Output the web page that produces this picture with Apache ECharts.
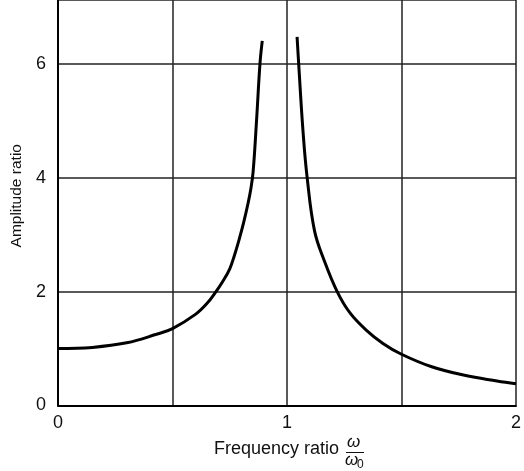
<!DOCTYPE html>
<html>
<head>
<meta charset="utf-8">
<script src="https://cdn.jsdelivr.net/npm/echarts@6/dist/echarts.min.js"></script>
<style>
html,body{margin:0;padding:0;background:#fff;}
#c{width:524px;height:471px;}
</style>
</head>
<body>
<div id="c"></div>
<script>
// Frequency ratio (omega/omega0) and amplitude ratio
var leftRatio = [0, 0.15, 0.3, 0.43, 0.5, 0.6, 0.65, 0.69, 0.72, 0.75, 0.77, 0.79, 0.81, 0.83, 0.842, 0.852, 0.867, 0.882, 0.892];
var leftAmp   = [1.0, 1.02, 1.10, 1.25, 1.35, 1.6, 1.79, 2.0, 2.18, 2.4, 2.63, 2.9, 3.2, 3.55, 3.8, 4.1, 5.0, 6.0, 6.4];
var rightRatio = [1.044, 1.051, 1.07, 1.088, 1.12, 1.162, 1.219, 1.276, 1.347, 1.419, 1.5, 1.632, 1.775, 1.917, 2.0];
var rightAmp   = [6.47, 6.0, 4.81, 4.0, 3.07, 2.55, 2.0, 1.62, 1.32, 1.09, 0.90, 0.68, 0.53, 0.43, 0.38];
var xTicks = [0, 1, 2];
var yTicks = [0, 2, 4, 6];

function pairs(xs, ys){ return xs.map(function(x,i){ return [x, ys[i]]; }); }

var chart = echarts.init(document.getElementById('c'), null, {renderer:'canvas'});
var font = 'Liberation Sans, Arial, sans-serif';
chart.setOption({
  animation:false,
  backgroundColor:'#fff',
  grid:{left:58, right:-1, top:-2, bottom:65.5},
  xAxis:{
    type:'value', min:0, max:2, interval:0.5,
    axisLine:{show:true, onZero:false, lineStyle:{color:'#000', width:2}},
    axisTick:{show:false},
    splitLine:{show:true, lineStyle:{color:'#222', width:1.5}},
    axisLabel:{
      color:'#111', fontSize:18, fontFamily:font, margin:9,
      formatter:function(v){ return xTicks.indexOf(v) >= 0 ? String(v) : ''; }
    }
  },
  yAxis:{
    type:'value', min:0, max:7.118, interval:2,
    name:'Amplitude ratio', nameLocation:'middle', nameGap:30,
    nameTextStyle:{color:'#111', fontSize:15.5, fontFamily:font, padding:[0,0,0,14]},
    axisLine:{show:true, onZero:false, lineStyle:{color:'#000', width:2}},
    axisTick:{show:false},
    splitLine:{show:true, lineStyle:{color:'#222', width:1.5}},
    axisLabel:{
      color:'#111', fontSize:18, fontFamily:font, margin:12,
      formatter:function(v){ return yTicks.indexOf(v) >= 0 ? String(v) : ''; }
    }
  },
  graphic:[
    {type:'text', left:214, top:440, style:{text:'Frequency ratio', font:'18px ' + font, fill:'#111'}},
    {type:'text', left:347, top:434, style:{text:'ω', font:'italic 17px ' + font, fill:'#111'}},
    {type:'line', shape:{x1:346, y1:452.5, x2:364, y2:452.5}, style:{stroke:'#111', lineWidth:1}},
    {type:'text', left:345, top:452, style:{text:'ω', font:'italic 17px ' + font, fill:'#111'}},
    {type:'text', left:357, top:459, style:{text:'0', font:'12px ' + font, fill:'#111'}}
  ],
  series:[
    {type:'line', data:pairs(leftRatio, leftAmp), smooth:0.4, showSymbol:false,
     lineStyle:{color:'#000', width:3}},
    {type:'line', data:pairs(rightRatio, rightAmp), smooth:0.4, showSymbol:false,
     lineStyle:{color:'#000', width:3}}
  ]
});
</script>
</body>
</html>
